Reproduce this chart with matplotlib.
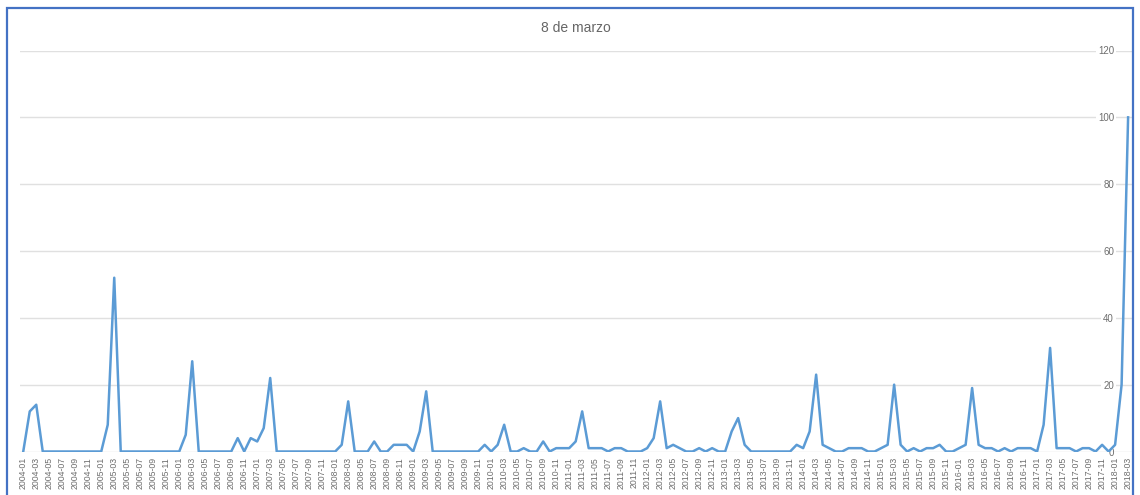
import matplotlib
matplotlib.use("Agg")
import matplotlib.pyplot as plt
import pandas as pd
from matplotlib.patches import Rectangle

plt.rcParams["font.family"] = ["Liberation Sans", "DejaVu Sans"]

# Monthly search interest for "8 de marzo", Jan 2004 - Mar 2018
months = pd.period_range("2004-01", "2018-03", freq="M").strftime("%Y-%m").tolist()

values_2004 = [0, 12, 14, 0, 0, 0, 0, 0, 0, 0, 0, 0]
values_2005 = [0, 8, 52, 0, 0, 0, 0, 0, 0, 0, 0, 0]
values_2006 = [0, 5, 27, 0, 0, 0, 0, 0, 0, 4, 0, 4]
values_2007 = [3, 7, 22, 0, 0, 0, 0, 0, 0, 0, 0, 0]
values_2008 = [0, 2, 15, 0, 0, 0, 3, 0, 0, 2, 2, 2]
values_2009 = [0, 6, 18, 0, 0, 0, 0, 0, 0, 0, 0, 2]
values_2010 = [0, 2, 8, 0, 0, 1, 0, 0, 3, 0, 1, 1]
values_2011 = [1, 3, 12, 1, 1, 1, 0, 1, 1, 0, 0, 0]
values_2012 = [1, 4, 15, 1, 2, 1, 0, 0, 1, 0, 1, 0]
values_2013 = [0, 6, 10, 2, 0, 0, 0, 0, 0, 0, 0, 2]
values_2014 = [1, 6, 23, 2, 1, 0, 0, 1, 1, 1, 0, 0]
values_2015 = [1, 2, 20, 2, 0, 1, 0, 1, 1, 2, 0, 0]
values_2016 = [1, 2, 19, 2, 1, 1, 0, 1, 0, 1, 1, 1]
values_2017 = [0, 8, 31, 1, 1, 1, 0, 1, 1, 0, 2, 0]
values_2018 = [2, 20, 100]

interest = (values_2004 + values_2005 + values_2006 + values_2007 + values_2008
            + values_2009 + values_2010 + values_2011 + values_2012 + values_2013
            + values_2014 + values_2015 + values_2016 + values_2017 + values_2018)

y_ticks = [0, 20, 40, 60, 80, 100, 120]
title = "8 de marzo"

W, H = 1140, 495
fig = plt.figure(figsize=(W / 100, H / 100), dpi=100)
ax = fig.add_axes([20 / W, 1 - 451.5 / H, (1132 - 20) / W, (451.5 - 50.5) / H])

xs = list(range(len(months)))
ax.plot(xs, interest, color="#5B9BD5", lw=1.8, solid_joinstyle="round", zorder=3)

ax.set_xlim(-0.5, 170.6)
ax.set_ylim(0, 120)
ax.set_yticks(y_ticks)
ax.grid(axis="y", color="#e0e0e0", lw=1)
ax.grid(axis="x", visible=False)
ax.set_axisbelow(True)
for s in ax.spines.values():
    s.set_visible(False)

ax.set_xticks(xs[::2])
ax.set_xticklabels(months[::2], rotation=90, fontsize=6.3, color="#6e6e6e")
ax.tick_params(axis="x", length=0, pad=4)

ax.yaxis.tick_right()
ax.tick_params(axis="y", length=0, pad=-13, labelsize=7, labelcolor="#6e6e6e")
for lab in ax.get_yticklabels():
    lab.set_ha("right")
    if lab.get_text() not in ("0", "$\\mathdefault{0}$"):
        lab.set_bbox(dict(facecolor="white", edgecolor="none", pad=1.5))

fig.text(575.5 / W, 1 - 28 / H, title, ha="center", va="center",
         fontsize=10, color="#666666")

fig.add_artist(Rectangle((6.5 / W, -0.1), (1133 - 6.5) / W, 1.1 - 7.5 / H,
                         transform=fig.transFigure, fill=False,
                         edgecolor="#4472C4", lw=1.6))

fig.savefig("out.png", dpi=100)
